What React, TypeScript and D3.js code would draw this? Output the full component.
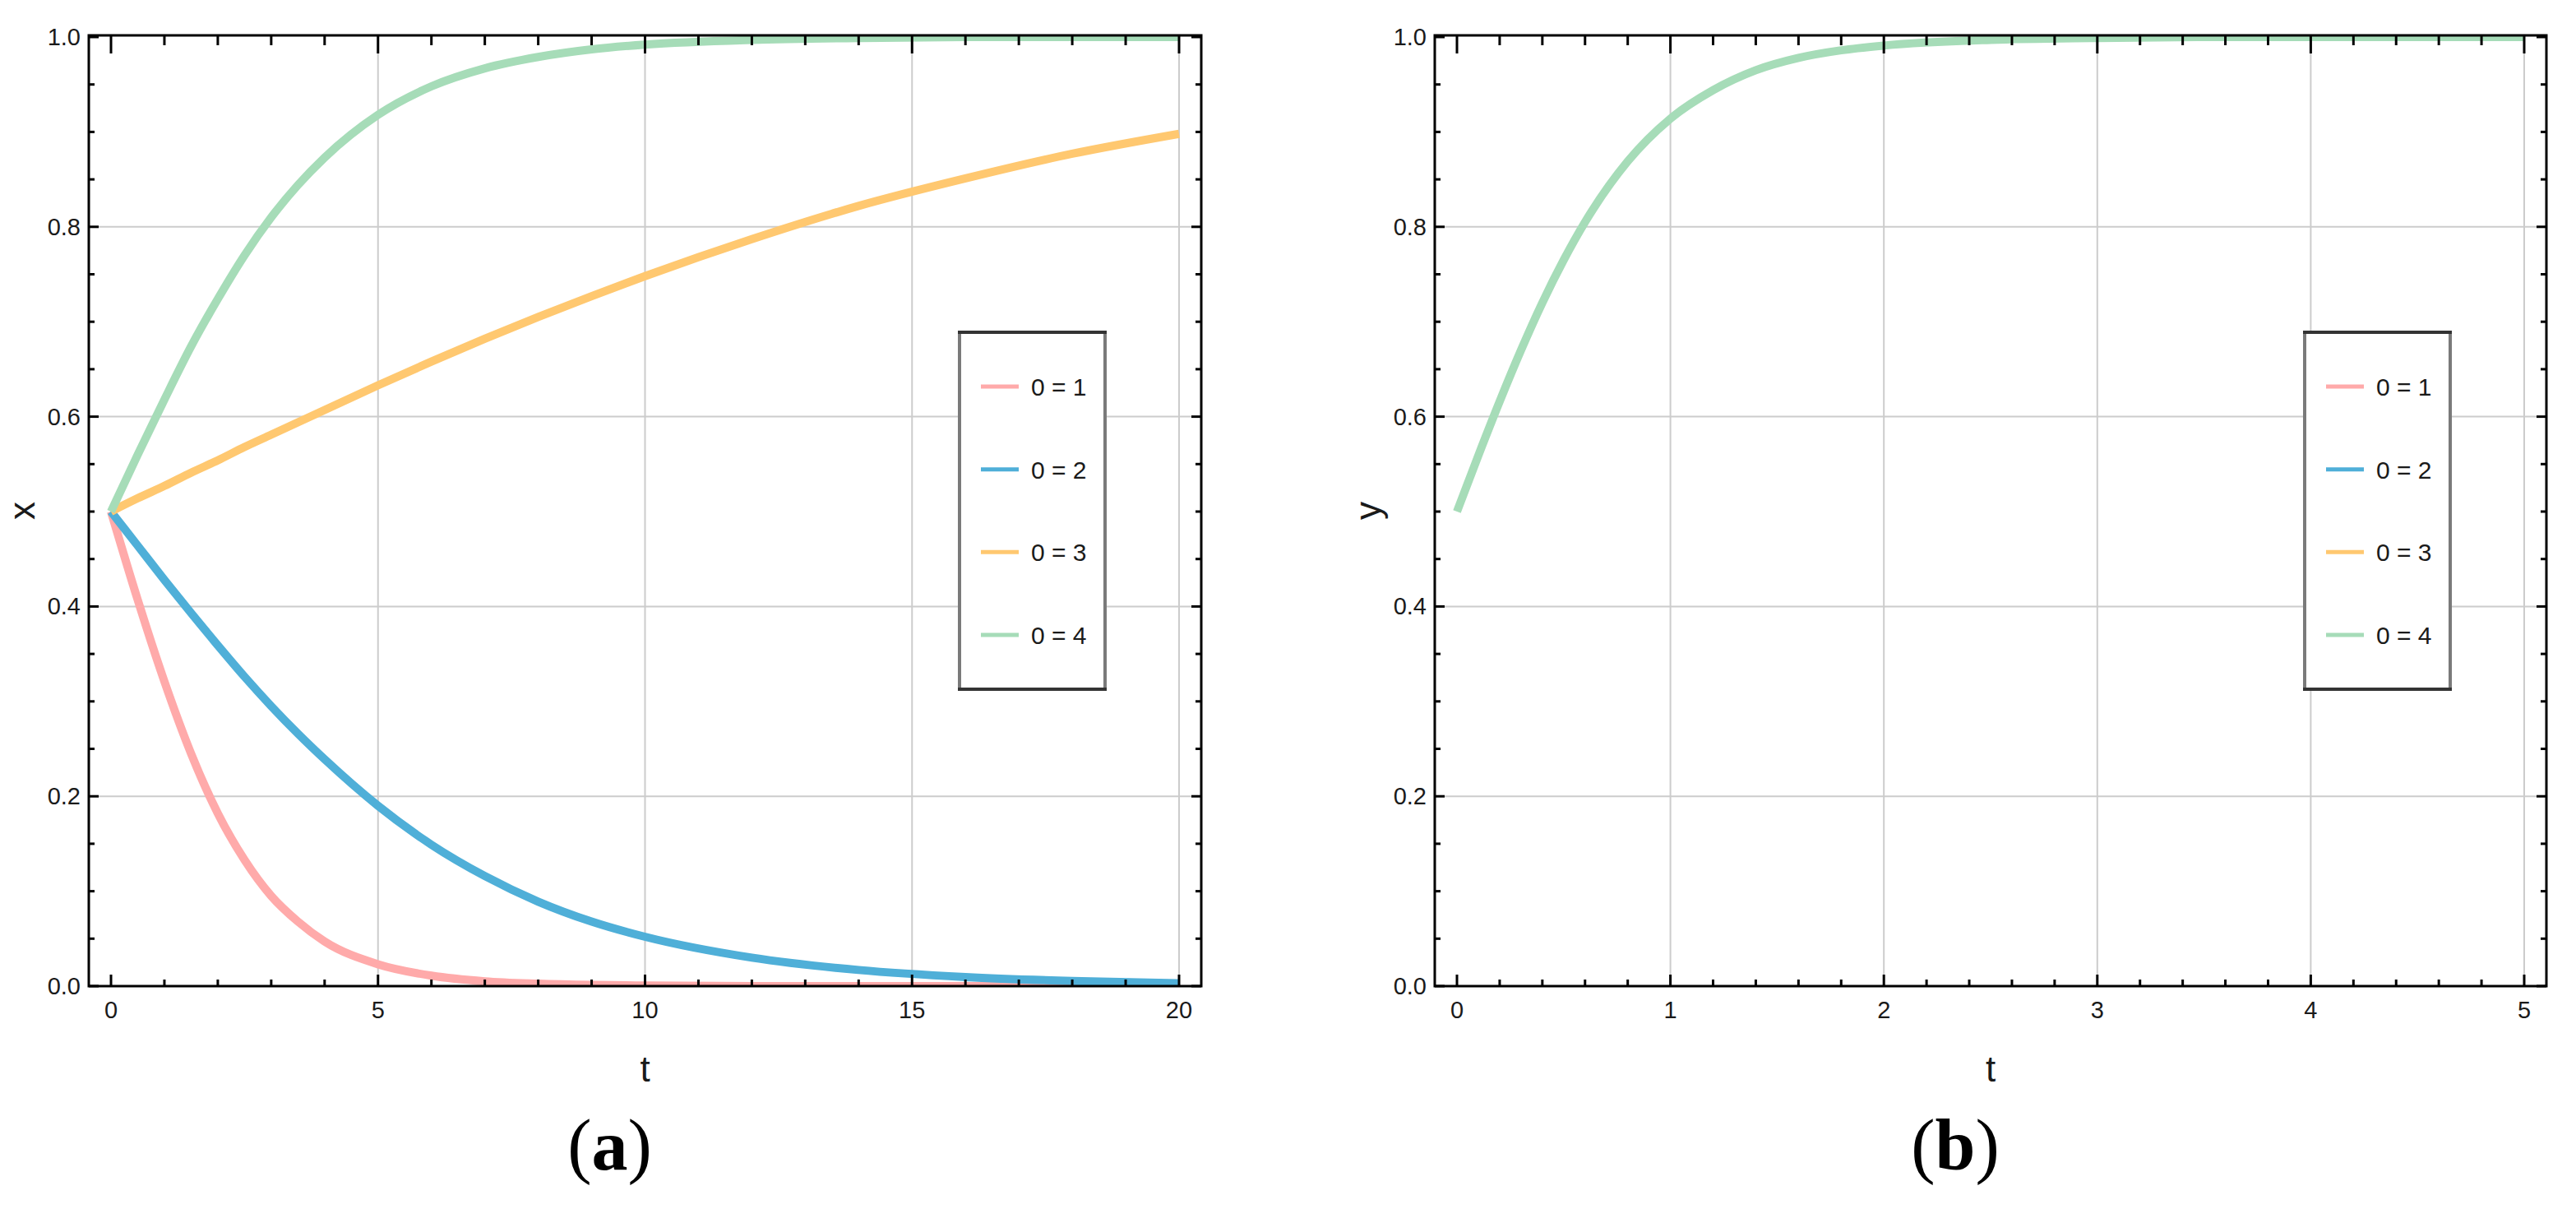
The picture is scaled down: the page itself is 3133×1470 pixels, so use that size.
import React from 'react';
import * as d3 from 'd3';

// ---------- data ----------
const tA = [0, 0.5, 1, 1.5, 2, 2.5, 3, 3.5, 4, 5, 6, 7, 8, 9, 10, 12, 14, 16, 18, 20];
const theta1A = [0.5, 0.407, 0.321, 0.245, 0.182, 0.133, 0.095, 0.068, 0.047, 0.023, 0.011, 0.005, 0.0025, 0.0012, 0.0006, 0.0001, 0, 0, 0, 0];
const theta2A = [0.5, 0.464, 0.428, 0.393, 0.359, 0.326, 0.295, 0.266, 0.239, 0.19, 0.149, 0.116, 0.089, 0.068, 0.052, 0.03, 0.017, 0.0096, 0.0054, 0.003];
const theta3A = [0.5, 0.514, 0.527, 0.541, 0.554, 0.568, 0.581, 0.594, 0.607, 0.633, 0.658, 0.682, 0.705, 0.727, 0.748, 0.787, 0.822, 0.851, 0.877, 0.898];
const theta4A = [0.5, 0.56, 0.618, 0.674, 0.724, 0.77, 0.81, 0.844, 0.873, 0.918, 0.948, 0.967, 0.979, 0.987, 0.992, 0.997, 0.999, 1, 1, 1];

const tB = [0, 0.1, 0.2, 0.3, 0.4, 0.5, 0.6, 0.8, 1.0, 1.2, 1.4, 1.6, 1.8, 2.0, 2.5, 3, 3.5, 4, 4.5, 5];
const theta4B = [0.5, 0.559, 0.616, 0.67, 0.72, 0.765, 0.805, 0.869, 0.914, 0.944, 0.965, 0.978, 0.986, 0.991, 0.997, 0.999, 1, 1, 1, 1];

const legendLabels = ['0 = 1', '0 = 2', '0 = 3', '0 = 4'];
const seriesColors = ['#ffaaaa', '#4fafd8', '#ffc870', '#a6dcb8'];

const xTicksA = [0, 5, 10, 15, 20];
const xTicksB = [0, 1, 2, 3, 4, 5];
const yTicks = [0, 0.2, 0.4, 0.6, 0.8, 1.0];

// ---------- layout ----------
const W = 3133;
const H = 1470;
const FRAME_TOP = 43;
const FRAME_BOTTOM = 1199;
const PAD_X = 27;
const SANS = 'Liberation Sans, Arial, Helvetica, sans-serif';
const SERIF = 'Liberation Serif, Times New Roman, serif';

type Series = { t: number[]; v: number[]; color: string };

function Panel(props: {
  id: string;
  left: number;
  right: number;
  xMax: number;
  xMajor: number[];
  xMinorStep: number;
  series: Series[];
  yLabel: string;
  panelLabel: string;
}) {
  const { id, left, right, xMax, xMajor, xMinorStep, series, yLabel, panelLabel } = props;
  const x = d3.scaleLinear().domain([0, xMax]).range([left + PAD_X, right - PAD_X]);
  const y = d3.scaleLinear().domain([0, 1]).range([FRAME_BOTTOM, 45]);

  const xMinor = d3.range(0, xMax + 1e-9, xMinorStep).filter((v) => !xMajor.some((m) => Math.abs(m - v) < 1e-9));
  const yMinor = d3.range(0, 1.0001, 0.05).filter((v) => !yTicks.some((m) => Math.abs(m - v) < 1e-9));

  const line = d3
    .line<[number, number]>()
    .x((d) => x(d[0]))
    .y((d) => y(d[1]))
    .curve(d3.curveMonotoneX);

  const cx = (left + right) / 2;
  const legLeft = right - 294;
  const legRight = right - 117;
  const legTop = 404;
  const legBottom = 838;
  const legY = d3.scaleLinear().domain([0, 3]).range([470, 772]);

  return (
    <g>
      <defs>
        <clipPath id={`clip-${id}`}>
          <rect x={left} y={FRAME_TOP} width={right - left} height={FRAME_BOTTOM - FRAME_TOP} />
        </clipPath>
      </defs>
      {/* grid */}
      {xMajor
        .filter((v) => v !== 0)
        .map((v) => (
          <line key={`gx${v}`} x1={x(v)} x2={x(v)} y1={FRAME_TOP} y2={FRAME_BOTTOM} stroke="#cccccc" strokeWidth={2} />
        ))}
      {yTicks
        .filter((v) => v !== 0 && v !== 1)
        .map((v) => (
          <line key={`gy${v}`} x1={left} x2={right} y1={y(v)} y2={y(v)} stroke="#cccccc" strokeWidth={2} />
        ))}
      {/* curves */}
      <g clipPath={`url(#clip-${id})`}>
        {series.map((s, i) => (
          <path
            key={i}
            d={line(s.t.map((t, j) => [t, s.v[j]] as [number, number])) || ''}
            fill="none"
            stroke={s.color}
            strokeWidth={10}
            strokeLinejoin="round"
          />
        ))}
      </g>
      {/* frame */}
      <rect x={left} y={FRAME_TOP} width={right - left} height={FRAME_BOTTOM - FRAME_TOP} fill="none" stroke="#000" strokeWidth={3} />
      {/* x ticks */}
      {xMajor.map((v) => (
        <g key={`xt${v}`}>
          <line x1={x(v)} x2={x(v)} y1={FRAME_BOTTOM} y2={FRAME_BOTTOM - 14} stroke="#000" strokeWidth={3} />
          <line x1={x(v)} x2={x(v)} y1={FRAME_TOP} y2={FRAME_TOP + 22} stroke="#000" strokeWidth={3} />
          <text x={x(v)} y={1238} textAnchor="middle" fontFamily={SANS} fontSize={29} fill="#1a1a1a">
            {String(v)}
          </text>
        </g>
      ))}
      {xMinor.map((v) => (
        <g key={`xm${v}`}>
          <line x1={x(v)} x2={x(v)} y1={FRAME_BOTTOM} y2={FRAME_BOTTOM - 8} stroke="#000" strokeWidth={3} />
          <line x1={x(v)} x2={x(v)} y1={FRAME_TOP} y2={FRAME_TOP + 12} stroke="#000" strokeWidth={3} />
        </g>
      ))}
      {/* y ticks */}
      {yTicks.map((v) => (
        <g key={`yt${v}`}>
          <line x1={left} x2={left + 12} y1={y(v)} y2={y(v)} stroke="#000" strokeWidth={3} />
          <line x1={right} x2={right - 12} y1={y(v)} y2={y(v)} stroke="#000" strokeWidth={3} />
          <text x={left - 10} y={y(v) + 10} textAnchor="end" fontFamily={SANS} fontSize={29} fill="#1a1a1a">
            {v.toFixed(1)}
          </text>
        </g>
      ))}
      {yMinor.map((v) => (
        <g key={`ym${v}`}>
          <line x1={left} x2={left + 7} y1={y(v)} y2={y(v)} stroke="#000" strokeWidth={3} />
          <line x1={right} x2={right - 7} y1={y(v)} y2={y(v)} stroke="#000" strokeWidth={3} />
        </g>
      ))}
      {/* axis labels */}
      <text x={cx} y={1315} textAnchor="middle" fontFamily={SANS} fontSize={44} fill="#1a1a1a">
        t
      </text>
      <text
        transform={`translate(${left - 66},${(FRAME_TOP + FRAME_BOTTOM) / 2}) rotate(-90)`}
        textAnchor="middle"
        fontFamily={SANS}
        fontSize={44}
        fill="#1a1a1a"
      >
        {yLabel}
      </text>
      {/* legend */}
      <rect x={legLeft} y={legTop} width={legRight - legLeft} height={legBottom - legTop} fill="#fff" stroke="#7a7a7a" strokeWidth={4} />
      <line x1={legLeft - 2} x2={legRight + 2} y1={legTop} y2={legTop} stroke="#333" strokeWidth={4} />
      <line x1={legLeft - 2} x2={legRight + 2} y1={legBottom} y2={legBottom} stroke="#333" strokeWidth={4} />
      {legendLabels.map((lab, i) => (
        <g key={lab}>
          <line x1={legLeft + 26} x2={legLeft + 72} y1={legY(i)} y2={legY(i)} stroke={seriesColors[i]} strokeWidth={5} />
          <text x={legLeft + 87} y={legY(i) + 11} fontFamily={SANS} fontSize={30} fill="#1a1a1a">
            {lab}
          </text>
        </g>
      ))}
      {/* panel label */}
      <text x={cx - 43} y={1422} textAnchor="middle" fontFamily={SERIF} fontSize={88} fill="#000">
        (<tspan fontWeight="bold">{panelLabel}</tspan>)
      </text>
    </g>
  );
}

export default function App() {
  const seriesA: Series[] = [theta1A, theta2A, theta3A, theta4A].map((v, i) => ({ t: tA, v, color: seriesColors[i] }));
  const seriesB: Series[] = [{ t: tB, v: theta4B, color: seriesColors[3] }];
  return (
    <svg
      width={W}
      height={H}
      viewBox={`0 0 ${W} ${H}`}
      style={{ position: 'absolute', left: 0, top: 0, background: '#fff' }}
    >
      <rect x={0} y={0} width={W} height={H} fill="#fff" />
      <Panel id="a" left={108} right={1461} xMax={20} xMajor={xTicksA} xMinorStep={1} series={seriesA} yLabel="x" panelLabel="a" />
      <Panel id="b" left={1745} right={3097} xMax={5} xMajor={xTicksB} xMinorStep={0.2} series={seriesB} yLabel="y" panelLabel="b" />
    </svg>
  );
}
